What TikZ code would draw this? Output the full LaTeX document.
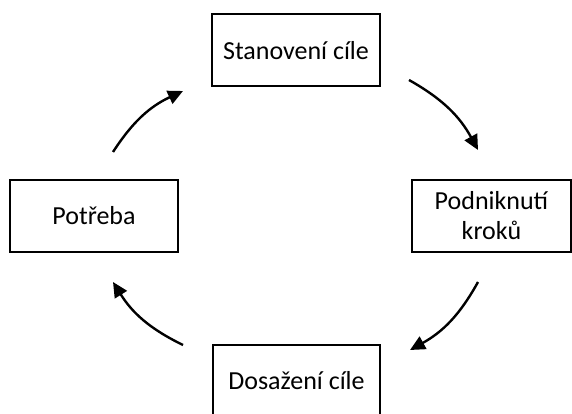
\documentclass[tikz,border=0pt]{standalone}
\usepackage{fontspec}
\setmainfont{Carlito}
\usetikzlibrary{arrows.meta,positioning,calc}

\begin{document}
\begin{tikzpicture}[x=1pt, y=1pt, >={Triangle[length=15pt,width=14pt]},
  krok/.style={draw, line width=2pt, minimum height=72pt, align=center,
    font=\fontsize{26}{30}\selectfont, inner sep=0pt},
  sipka/.style={->, line width=2.4pt, bend left=16}]
  % rozmery obrazku
  \useasboundingbox (0,0) rectangle (572,413);

  % ctyri kroky cyklu
  \node[krok, minimum width=168pt] (cil)      at (296,362.5) {Stanovení cíle};
  \node[krok, minimum width=159pt] (kroky)    at (491.5,197)  {Podniknutí\\kroků};
  \node[krok, minimum width=167pt] (dosazeni) at (296.5,32)   {Dosažení cíle};
  \node[krok, minimum width=168pt] (potreba)  at (94,197)     {Potřeba};

  % konce sipek
  \coordinate (a1) at (113,261);
  \coordinate (a2) at (183,322);
  \coordinate (b1) at (409,333);
  \coordinate (b2) at (478,263);
  \coordinate (c1) at (478,131);
  \coordinate (c2) at (410,63);
  \coordinate (d1) at (183,68);
  \coordinate (d2) at (113,131);

  \draw[sipka] (a1) to (a2);
  \draw[sipka] (b1) to (b2);
  \draw[sipka] (c1) to (c2);
  \draw[sipka] (d1) to (d2);
\end{tikzpicture}
\end{document}
